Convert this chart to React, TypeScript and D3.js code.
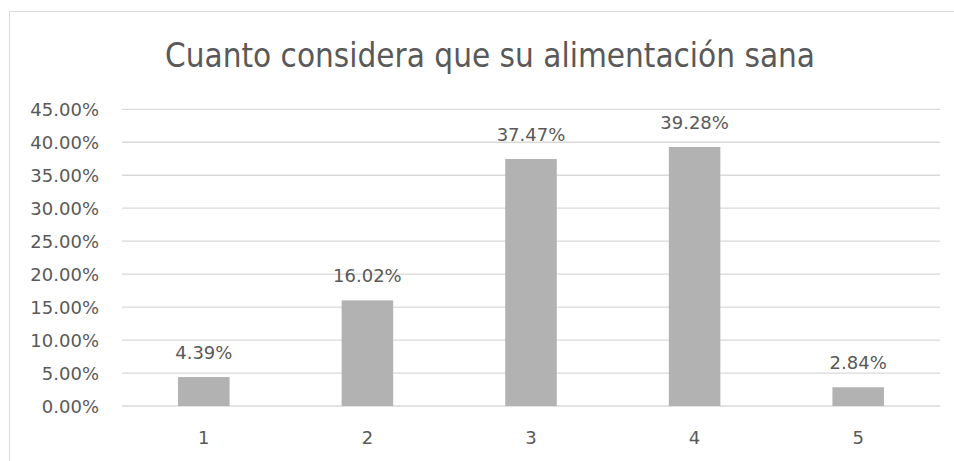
import React from "react";
import * as d3 from "d3";

const categories = ["1", "2", "3", "4", "5"];
const values = [0.0439, 0.1602, 0.3747, 0.3928, 0.0284];
const yTicks = [0, 0.05, 0.1, 0.15, 0.2, 0.25, 0.3, 0.35, 0.4, 0.45];
const title = "Cuanto considera que su alimentación sana";

const W = 954;
const H = 461;
const plotLeft = 122;
const plotRight = 940;
const plotTop = 109.3;
const plotBottom = 406;
const textColor = "#595959";
const gridColor = "#d9d9d9";
const barColor = "#b2b2b2";
const font = "'DejaVu Sans', sans-serif";

export default function App() {
  const x = d3
    .scaleBand<string>()
    .domain(categories)
    .range([plotLeft, plotRight])
    .paddingInner(0.685)
    .paddingOuter(0.3425);
  const y = d3.scaleLinear().domain([0, 0.45]).range([plotBottom, plotTop]);
  const fmt = d3.format(".2%");

  return (
    <svg
      width={W}
      height={H}
      style={{ position: "absolute", left: 0, top: 0, background: "#fff" }}
    >
      <rect x={9.5} y={11.5} width={1000} height={600} fill="#fff" stroke={gridColor} strokeWidth={1} />
      <text
        x={490}
        y={67}
        textAnchor="middle"
        fontFamily={font}
        fontSize={33}
        fill={textColor}
        textLength={650}
        lengthAdjust="spacingAndGlyphs"
      >
        {title}
      </text>
      {yTicks.map((t) => (
        <g key={t}>
          <line
            x1={plotLeft}
            x2={plotRight}
            y1={y(t)}
            y2={y(t)}
            stroke={gridColor}
            strokeWidth={1.3}
          />
          <text
            x={99}
            y={y(t) + 6.5}
            textAnchor="end"
            fontFamily={font}
            fontSize={18}
            fill={textColor}
          >
            {fmt(t)}
          </text>
        </g>
      ))}
      {categories.map((c, i) => (
        <g key={c}>
          <rect
            x={x(c)!}
            y={y(values[i])}
            width={x.bandwidth()}
            height={plotBottom - y(values[i])}
            fill={barColor}
          />
          <text
            x={x(c)! + x.bandwidth() / 2}
            y={y(values[i]) - 18}
            textAnchor="middle"
            fontFamily={font}
            fontSize={18}
            fill={textColor}
          >
            {fmt(values[i])}
          </text>
          <text
            x={x(c)! + x.bandwidth() / 2}
            y={444}
            textAnchor="middle"
            fontFamily={font}
            fontSize={18}
            fill={textColor}
          >
            {c}
          </text>
        </g>
      ))}
    </svg>
  );
}
